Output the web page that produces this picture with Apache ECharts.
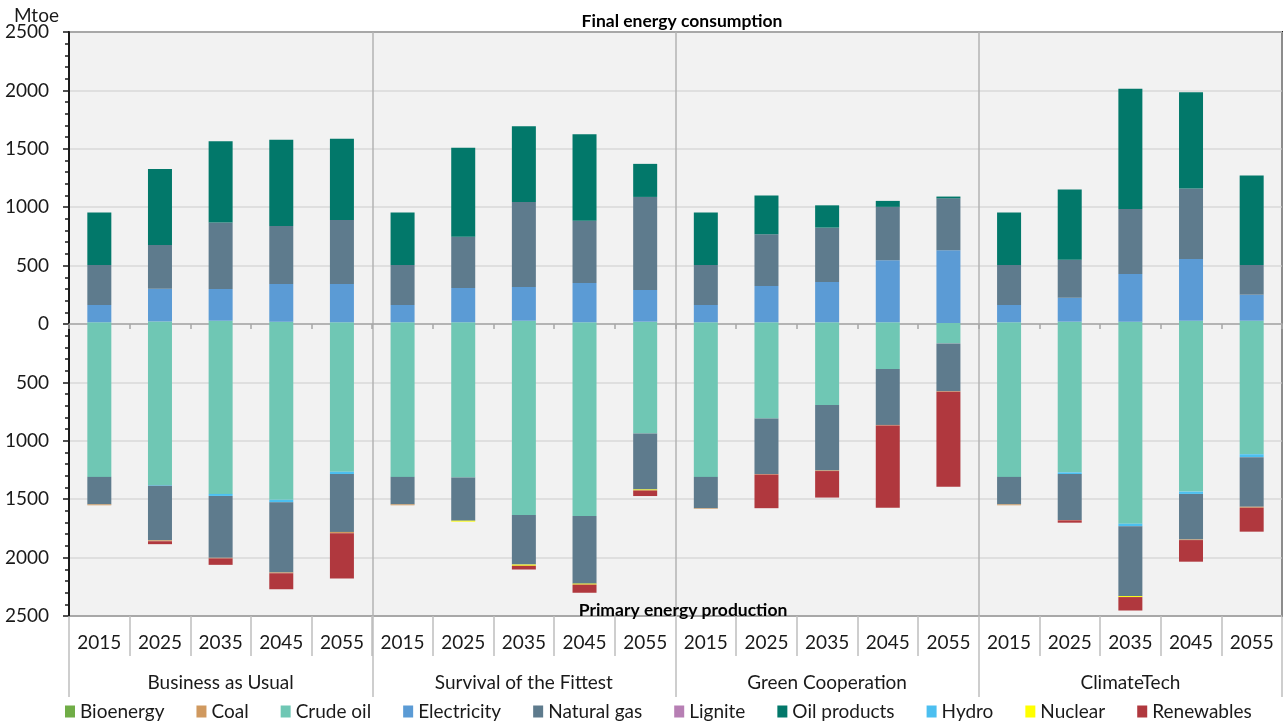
<!DOCTYPE html>
<html>
<head>
<meta charset="utf-8">
<script src="https://cdn.jsdelivr.net/npm/echarts@6/dist/echarts.min.js"></script>
<style>
html,body{margin:0;padding:0;background:#fff;}
#chart{width:1285px;height:725px;}
</style>
</head>
<body>
<div id="chart"></div>
<script>
// Categories
const years = ['2015','2025','2035','2045','2055','2015','2025','2035','2045','2055','2015','2025','2035','2045','2055','2015','2025','2035','2045','2055'];
const scenarios = ['Business as Usual','Survival of the Fittest','Green Cooperation','ClimateTech'];
const yTicks = [-2500,-2000,-1500,-1000,-500,0,500,1000,1500,2000,2500];

// Final energy consumption (Mtoe, plotted upward)
const crudeCons = [15,22,28,20,15, 15,15,28,15,20, 15,15,15,15,8, 15,20,20,28,28];
const elecCons  = [148,280,272,323,328, 148,293,289,336,271, 148,311,345,530,623, 148,205,408,529,223];
const gasCons   = [342,375,568,497,548, 342,440,728,532,797, 342,442,465,458,445, 342,326,557,603,254];
const oilProdCons = [449,651,697,737,694, 449,760,648,742,283, 449,332,191,51,15, 449,600,1029,825,766];

// Primary energy production (Mtoe, plotted downward)
const crudeProd = [1309,1380,1455,1505,1265, 1309,1314,1635,1643,937, 1309,809,694,386,166, 1309,1270,1710,1435,1115];
const hydroProd = [0,5,17,22,20, 0,0,0,0,0, 0,0,0,0,0, 0,15,22,20,25];
const gasProd   = [235,467,530,600,495, 235,370,425,580,480, 268,475,560,478,410, 235,393,598,390,425];
const coalProd  = [8,8,5,7,12, 8,0,0,0,0, 5,5,5,5,5, 8,3,0,5,8];
const nuclearProd = [0,0,0,0,0, 0,8,10,8,8, 0,0,0,0,0, 0,0,8,0,0];
const renewProd = [0,25,55,137,388, 0,0,32,70,48, 0,288,227,705,813, 0,20,115,185,205];
const bioProd   = [0,0,0,0,0, 0,0,0,0,0, 0,0,0,0,0, 0,0,0,0,0];
const ligniteProd = [0,0,0,0,0, 0,0,0,0,0, 0,0,0,0,0, 0,0,0,0,0];

const legendNames = ['Bioenergy','Coal','Crude oil','Electricity','Natural gas','Lignite','Oil products','Hydro','Nuclear','Renewables'];
const colors = {
  'Bioenergy':'#70ad47','Coal':'#d0995f','Crude oil':'#6fc7b4','Electricity':'#5b9bd5',
  'Natural gas':'#5e7b8d','Lignite':'#b77fb4','Oil products':'#02786a','Hydro':'#4cbff0',
  'Nuclear':'#ffff00','Renewables':'#b0383e'
};

const FONT = 'Lato';
const pos = arr => arr.map(v => v === 0 ? '-' : v);
const neg = arr => arr.map(v => v === 0 ? '-' : -v);
function bar(name, data){
  return {
    name: name, type: 'bar', stack: 'total', xAxisIndex: 0, yAxisIndex: 0,
    barWidth: 24, data: data,
    itemStyle: { color: colors[name] }
  };
}

const series = [
  bar('Crude oil', pos(crudeCons)),
  bar('Electricity', pos(elecCons)),
  bar('Natural gas', pos(gasCons)),
  bar('Oil products', pos(oilProdCons)),
  bar('Crude oil', neg(crudeProd)),
  bar('Hydro', neg(hydroProd)),
  bar('Natural gas', neg(gasProd)),
  bar('Coal', neg(coalProd)),
  bar('Nuclear', neg(nuclearProd)),
  bar('Renewables', neg(renewProd)),
  bar('Bioenergy', neg(bioProd)),
  bar('Lignite', neg(ligniteProd))
];

const chart = echarts.init(document.getElementById('chart'), null, {renderer:'canvas'});
chart.setOption({
  animation: false,
  textStyle: { fontFamily: FONT },
  title: [
    { text: 'Mtoe', left: 9, top: 1, textStyle: { fontFamily: FONT, fontSize: 19, fontWeight: 'normal', color: '#1a1a1a' } },
    { text: 'Final energy consumption', left: 677, top: 7, textAlign: 'center', textStyle: { fontFamily: FONT, fontSize: 17.5, fontWeight: 'bold', color: '#000' } },
    { text: 'Primary energy production', left: 678, top: 596, textAlign: 'center', textStyle: { fontFamily: FONT, fontSize: 17.5, fontWeight: 'bold', color: '#000' } }
  ],
  grid: {
    left: 69, right: 3, top: 32, bottom: 109,
    show: true, backgroundColor: '#f2f2f2', borderColor: '#1a1a1a', borderWidth: 2,
    containLabel: false
  },
  legend: {
    data: legendNames, left: 60, top: 697, itemWidth: 10, itemHeight: 12, itemGap: 32,
    icon: 'rect', selectedMode: false,
    textStyle: { fontFamily: FONT, fontSize: 19, color: '#1a1a1a' }
  },
  xAxis: [
    {
      type: 'category', data: years, position: 'bottom',
      axisLine: { show: true, onZero: true, lineStyle: { color: '#a6a6a6', width: 1.5 } },
      axisTick: { show: true, interval: 0, length: 5, lineStyle: { color: '#a6a6a6', width: 1.5 } },
      axisLabel: { show: false }, splitLine: { show: false }
    },
    {
      type: 'category', data: years, position: 'bottom',
      axisLine: { show: false, onZero: false },
      axisTick: { show: true, interval: 0, length: 40, lineStyle: { color: '#bfbfbf', width: 1.5 } },
      axisLabel: { show: true, interval: 0, margin: 17, fontFamily: FONT, fontSize: 19, color: '#1a1a1a' },
      splitLine: { show: false }
    },
    {
      type: 'category', data: scenarios, position: 'bottom',
      axisLine: { show: false, onZero: false },
      axisTick: { show: true, interval: 0, length: 81, lineStyle: { color: '#bfbfbf', width: 1.5 } },
      axisLabel: { show: true, interval: 0, margin: 57, fontFamily: FONT, fontSize: 19, color: '#1a1a1a' },
      splitLine: { show: true, interval: 0, lineStyle: { color: '#b3b3b3', width: 1.5 } }
    }
  ],
  yAxis: {
    type: 'value', min: yTicks[0], max: yTicks[yTicks.length-1], interval: 500,
    axisLine: { show: true, lineStyle: { color: '#1a1a1a', width: 2 } },
    axisTick: { show: true, length: 6, lineStyle: { color: '#1a1a1a', width: 1.5 } },
    minorTick: { show: true, splitNumber: 5, length: 4, lineStyle: { color: '#1a1a1a', width: 1.5 } },
    axisLabel: { margin: 20, fontFamily: FONT, fontSize: 19, color: '#1a1a1a', formatter: v => String(Math.abs(v)) },
    splitLine: { show: true, lineStyle: { color: '#d9d9d9', width: 1.5 } }
  },
  series: series
});
</script>
</body>
</html>
